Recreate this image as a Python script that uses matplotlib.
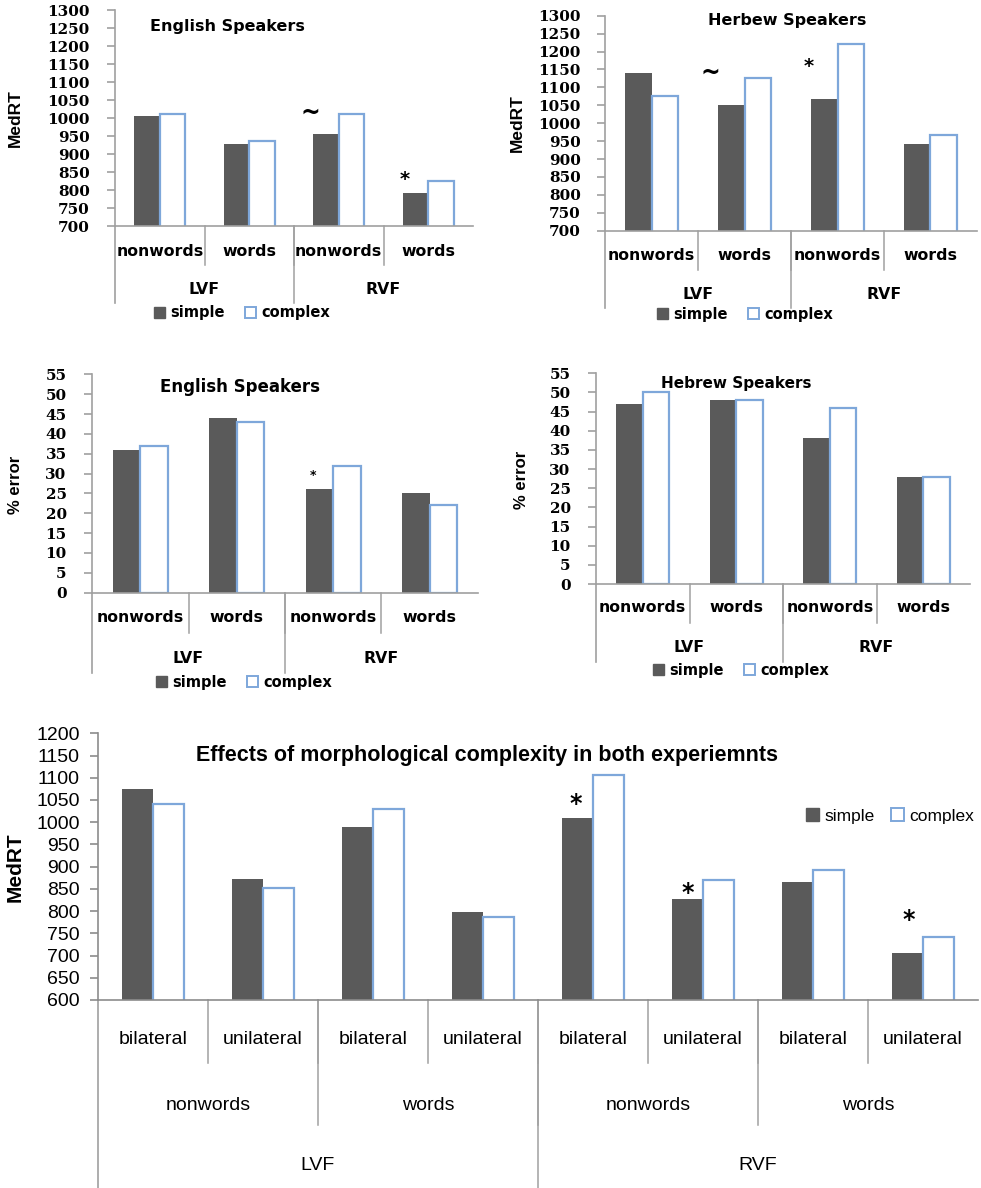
import numpy as np
import matplotlib.pyplot as plt
from matplotlib.patches import Patch

W, H = 981, 1188

# median RT (ms) per visual field x lexicality
eng_rt_simple = [1006, 929, 955, 793]
eng_rt_complex = [1010, 936, 1010, 824]
heb_rt_simple = [1139, 1052, 1068, 941]
heb_rt_complex = [1076, 1127, 1221, 967]

# % error
eng_err_simple = [36, 44, 26, 25]
eng_err_complex = [37, 43, 32, 22]
heb_err_simple = [47, 48, 38, 28]
heb_err_complex = [50, 48, 46, 28]

# both experiments pooled: field x lexicality x presentation
both_simple = [1074, 872, 989, 799, 1010, 827, 866, 705]
both_complex = [1042, 853, 1030, 786, 1107, 871, 893, 741]

lexicality = ["nonwords", "words"]
fields = ["LVF", "RVF"]
presentation = ["bilateral", "unilateral"]
series_names = ["simple", "complex"]

DARK = "#5a5a5a"
BLUE = "#7ea7da"
GRAY = "#a0a0a0"
NARROW = ["Liberation Sans Narrow", "Liberation Sans", "DejaVu Sans"]

fig = plt.figure(figsize=(W / 100, H / 100), dpi=100)


def make_axes(x0, y0, x1, y1):
    return fig.add_axes([x0 / W, 1 - y1 / H, (x1 - x0) / W, (y1 - y0) / H])


def draw_bars(ax, simple, complex_, ymin, ymax, step, width=0.285, axis_color=GRAY):
    n = len(simple)
    centers = np.arange(n) + 0.5
    ax.bar(centers - width / 2, simple, width, color=DARK, linewidth=0, zorder=2)
    ax.bar(centers + width / 2, complex_, width, color="white", edgecolor=BLUE,
           linewidth=1.6, zorder=2)
    ax.set_xlim(0, n)
    ax.set_ylim(ymin, ymax)
    ax.set_yticks(np.arange(ymin, ymax + 1, step))
    ax.set_xticks([])
    for side in ("top", "right"):
        ax.spines[side].set_visible(False)
    for side in ("left", "bottom"):
        ax.spines[side].set_color(axis_color)
        ax.spines[side].set_linewidth(1.2)
    ax.set_facecolor("none")
    return centers


def style_yticks(ax, family, size, weight, pad_px, color=GRAY):
    ax.tick_params(axis="y", length=6, width=1.2, color=color, pad=pad_px / 1.39)
    for lbl in ax.get_yticklabels():
        lbl.set_fontfamily(family)
        lbl.set_fontweight(weight)
        lbl.set_fontsize(size)


def x_levels(ax, levels, axis_depth, font, color=GRAY):
    # levels: (labels, span, label_px, sep_px), innermost first
    h = ax.get_position().height * H
    tr = ax.get_xaxis_transform()
    n = ax.get_xlim()[1]
    for labels, span, label_px, sep_px in levels:
        k = int(n // span)
        for i in range(k):
            ax.text((i + 0.5) * span, -label_px / h, labels[i % len(labels)],
                    transform=tr, ha="center", va="center", clip_on=False, **font)
            if i > 0:
                ax.plot([i * span, i * span], [0, -sep_px / h], transform=tr,
                        color=color, lw=1.1, clip_on=False)
    ax.plot([0, 0], [0, -axis_depth / h], transform=tr, color=color, lw=1.2,
            clip_on=False)


def add_legend(ax, cx, cy, font, size, colspace=1.4):
    handles = [Patch(facecolor=DARK, edgecolor=DARK),
               Patch(facecolor="white", edgecolor=BLUE, linewidth=1.4)]
    ax.legend(handles, series_names, loc="center", ncol=2, frameon=False,
              bbox_to_anchor=(cx / W, 1 - cy / H), bbox_transform=fig.transFigure,
              handlelength=0.75, handleheight=0.75, handletextpad=0.35,
              columnspacing=colspace, borderaxespad=0,
              prop=dict(size=size, **font))


def mark(ax, centers, values, idx, symbol, dx, dy, size):
    ax.text(centers[idx] + dx, values[idx] + dy, symbol, ha="center", va="center",
            fontsize=size, fontweight="bold", family="DejaVu Sans", zorder=3)


bold_sans = dict(family="DejaVu Sans", weight="bold")
four_labels = lexicality * 2

# ---- English speakers, RT ----
ax = make_axes(115, 10, 473, 226)
c = draw_bars(ax, eng_rt_simple, eng_rt_complex, 700, 1300, 50)
style_yticks(ax, "DejaVu Serif", 11, "bold", 17)
x_levels(ax, [(four_labels, 1, 26, 39), (fields, 2, 64, 77)], 77,
         dict(fontsize=11.3, **bold_sans))
add_legend(ax, 242, 313, bold_sans, 10.5)
fig.text(227 / W, 1 - 27 / H, "English Speakers", ha="center", va="center",
         fontsize=11.5, **bold_sans)
fig.text(15 / W, 1 - 118 / H, "MedRT", rotation=90, ha="center", va="center",
         fontsize=12.5, family=NARROW, weight="bold")
mark(ax, c, eng_rt_simple, 2, "~", -0.32, 59, 17)
mark(ax, c, eng_rt_simple, 3, "*", -0.26, 37, 14)

# ---- Hebrew speakers, RT ----
ax = make_axes(605, 15.7, 977, 230.7)
c = draw_bars(ax, heb_rt_simple, heb_rt_complex, 700, 1300, 50)
style_yticks(ax, "DejaVu Serif", 11, "bold", 16)
x_levels(ax, [(four_labels, 1, 25, 39), (fields, 2, 64, 77)], 77,
         dict(fontsize=11.3, **bold_sans))
add_legend(ax, 745, 314, bold_sans, 10.5)
fig.text(787 / W, 1 - 20 / H, "Herbew Speakers", ha="center", va="center",
         fontsize=11.5, **bold_sans)
fig.text(517 / W, 1 - 123 / H, "MedRT", rotation=90, ha="center", va="center",
         fontsize=12.5, family=NARROW, weight="bold")
mark(ax, c, heb_rt_simple, 1, "~", -0.37, 88, 17)
mark(ax, c, heb_rt_simple, 2, "*", -0.31, 89, 14)

# ---- English speakers, errors ----
ax = make_axes(92, 374.3, 478, 592.7)
c = draw_bars(ax, eng_err_simple, eng_err_complex, 0, 55, 5)
style_yticks(ax, "DejaVu Serif", 11, "bold", 17)
x_levels(ax, [(four_labels, 1, 25, 40), (fields, 2, 66, 80)], 80,
         dict(fontsize=11.3, **bold_sans))
add_legend(ax, 244, 682, bold_sans, 10.5)
fig.text(240 / W, 1 - 387 / H, "English Speakers", ha="center", va="center",
         fontsize=12, **bold_sans)
fig.text(16 / W, 1 - 485 / H, "% error", rotation=90, ha="center", va="center",
         fontsize=12, family=NARROW, weight="bold")
mark(ax, c, eng_err_simple, 2, "*", -0.21, 3.6, 9)

# ---- Hebrew speakers, errors ----
ax = make_axes(596, 373.3, 970, 584)
c = draw_bars(ax, heb_err_simple, heb_err_complex, 0, 55, 5)
style_yticks(ax, "DejaVu Serif", 11, "bold", 17)
x_levels(ax, [(four_labels, 1, 24, 39), (fields, 2, 64, 78)], 78,
         dict(fontsize=11.3, **bold_sans))
add_legend(ax, 741, 670, bold_sans, 10.5)
fig.text(736 / W, 1 - 383 / H, "Hebrew Speakers", ha="center", va="center",
         fontsize=11, **bold_sans)
fig.text(521 / W, 1 - 480 / H, "% error", rotation=90, ha="center", va="center",
         fontsize=12, family=NARROW, weight="bold")

# ---- both experiments ----
AXIS_DARK = "#8c8c8c"
ax = make_axes(98, 733.3, 978, 1000)
c = draw_bars(ax, both_simple, both_complex, 600, 1200, 50, width=0.28,
              axis_color=AXIS_DARK)
style_yticks(ax, NARROW, 14, "normal", 10, color=AXIS_DARK)
narrow = dict(family=NARROW)
x_levels(ax, [(presentation, 1, 40, 63), (lexicality, 2, 105, 125),
              (fields, 4, 165, 188)], 188, dict(fontsize=14, **narrow))
add_legend(ax, 890, 816, narrow, 12.5, colspace=0.9)
fig.text(487 / W, 1 - 755 / H,
         "Effects of morphological complexity in both experiemnts",
         ha="center", va="center", fontsize=15.5, family=NARROW, weight="bold")
fig.text(15 / W, 1 - 867 / H, "MedRT", rotation=90, ha="center", va="center",
         fontsize=15, family=NARROW, weight="bold")
mark(ax, c, both_simple, 4, "*", -0.155, 31, 17)
mark(ax, c, both_simple, 5, "*", -0.14, 14, 17)
mark(ax, c, both_simple, 7, "*", -0.13, 75, 17)

fig.savefig("out.png", dpi=100)
